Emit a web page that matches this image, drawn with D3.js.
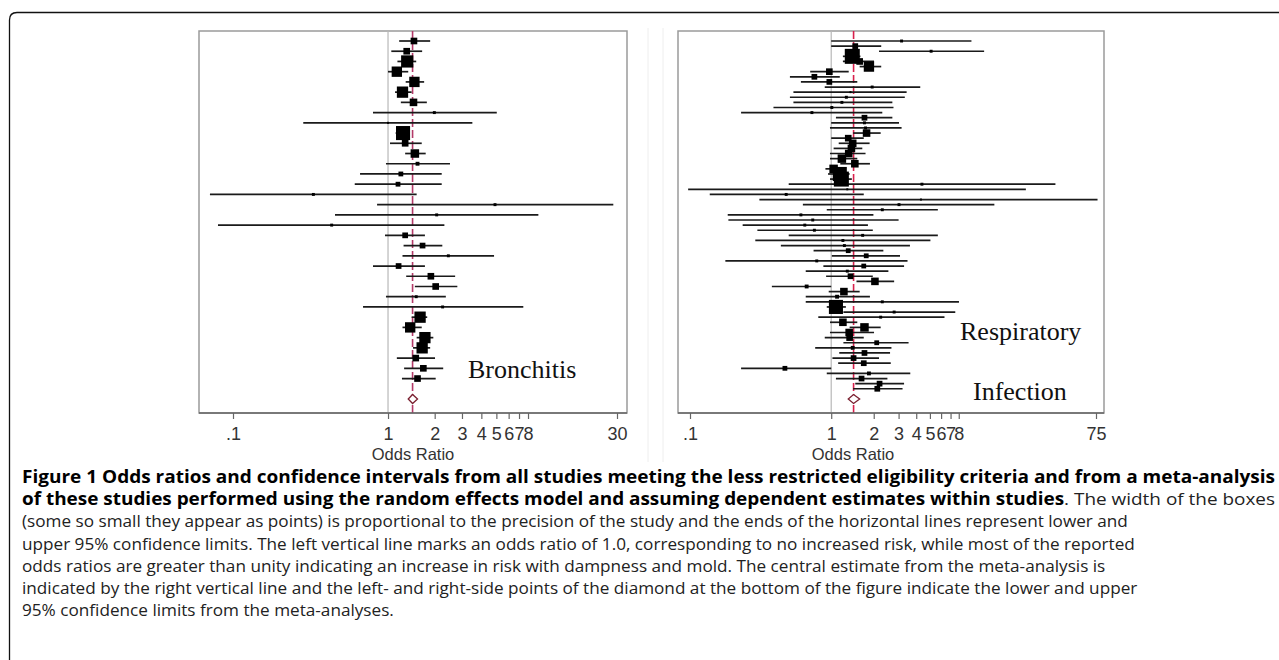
<!DOCTYPE html>
<html>
<head>
<meta charset="utf-8">
<script src="https://cdn.jsdelivr.net/npm/d3@7"></script>
<style>
  body { margin: 0; background: #fff; }
</style>
</head>
<body>
<div id="chart"></div>
<script>
// ---- data (top row first) ----
const bronchitisOR = [1.47,1.32,1.33,1.14,1.48,1.24,1.46,1.99,1.00,1.25,1.29,1.49,1.55,1.21,1.16,0.33,4.90,2.06,0.433,1.29,1.67,2.45,1.17,1.89,2.03,1.52,2.25,1.61,1.39,1.73,1.66,1.51,1.69,1.55];
const bronchitisLo = [1.18,1.05,1.15,1.00,1.30,1.11,1.21,0.80,0.284,1.12,1.03,1.29,0.97,0.66,0.61,0.071,0.85,0.455,0.080,0.956,1.26,1.24,0.80,1.31,1.49,0.97,0.69,1.42,1.24,1.53,1.45,1.14,1.27,1.23];
const bronchitisHi = [1.87,1.66,1.52,1.35,1.71,1.42,1.78,5.03,3.50,1.38,1.65,1.75,2.51,2.22,2.22,1.53,28.4,9.33,2.31,1.73,2.24,4.83,1.73,2.71,2.80,2.36,7.46,1.79,1.65,1.96,1.87,2.01,2.27,2.03];
const bronchitisWeight = [6,6,12,10,10,11,7,2,1,14,6,8,3,4,4,2,2,2,2,5,5,2,5,6,6,2,2,11,10,11,11,6,6,6];
const bronchitisPooled = { or: 1.44, lo: 1.35, hi: 1.55 };

const respiratoryOR = [3.15,1.48,5.10,1.41,1.59,1.85,0.97,0.76,0.97,1.95,1.37,1.28,1.19,1.01,0.73,1.72,1.72,1.75,1.78,1.32,1.42,1.39,1.33,1.19,1.47,1.04,1.15,1.18,4.39,1.30,0.48,4.32,3.02,2.30,0.61,0.74,0.65,0.76,1.67,1.21,1.24,1.32,1.77,0.79,1.70,1.30,1.37,2.04,0.67,1.23,1.10,2.30,1.08,2.79,2.24,1.21,1.72,1.34,1.35,2.10,1.42,1.72,1.44,1.70,0.47,1.85,1.64,2.20,2.12];
const respiratoryLo = [1.00,1.00,2.18,1.21,1.21,1.59,0.71,0.51,0.61,0.90,0.54,0.51,0.54,0.39,0.23,1.08,1.00,0.98,1.43,1.00,1.13,1.04,0.98,0.98,1.16,0.91,0.95,0.98,0.50,0.097,0.138,0.31,0.63,0.93,0.185,0.187,0.236,0.30,0.50,0.29,0.44,0.75,1.01,0.178,0.88,0.66,0.92,1.51,0.38,0.96,0.66,0.66,0.93,1.22,0.81,0.98,1.35,0.98,0.90,1.22,0.77,1.14,1.02,1.12,0.23,0.93,1.08,1.48,1.43];
const respiratoryHi = [9.84,2.26,12.1,1.61,2.01,2.26,1.33,1.15,1.53,4.27,3.42,3.32,2.71,2.76,2.30,2.71,3.02,3.15,2.24,1.70,1.87,1.66,1.75,1.53,1.88,1.16,1.35,1.40,38.7,23.9,1.70,76.9,14.3,5.69,1.99,3.00,1.82,1.97,5.69,5.04,3.61,2.34,3.07,3.47,3.28,2.54,1.97,2.79,1.00,1.59,1.88,8.03,1.27,7.56,6.34,1.53,2.24,2.01,1.70,3.53,2.67,2.61,2.18,2.64,1.00,3.63,2.50,3.28,3.20];
const respiratoryWeight = [2,5,2,15,6,10,6,5,5,2,1,2,2,2,2,5,2,2,7,6,7,7,7,8,7,8,14,15,2,1,2,1,2,2,2,2,2,2,2,2,2,4,4,2,4,2,5,7,3,7,3,2,14,2,2,7,8,7,6,4,3,5,5,5,4,3,5,5,5];
const respiratoryPooled = { or: 1.44, lo: 1.32, hi: 1.59 };

const bronchitisTicks = [0.1, 1, 2, 3, 4, 5, 6, 7, 8, 30];
const bronchitisTickLabels = [".1", "1", "2", "3", "4", "5", "6", "7", "8", "30"];
const respiratoryTicks = [0.1, 1, 2, 3, 4, 5, 6, 7, 8, 75];
const respiratoryTickLabels = [".1", "1", "2", "3", "4", "5", "6", "7", "8", "75"];

const axisTitle = "Odds Ratio";
const bronchitisLabel = ["Bronchitis"];
const respiratoryLabel = ["Respiratory", "Infection"];

const captionLines = [
  [["Figure 1 Odds ratios and confidence intervals from all studies meeting the less restricted eligibility criteria and from a meta-analysis", true]],
  [["of these studies performed using the random effects model and assuming dependent estimates within studies", true], [". The width of the boxes", false]],
  [["(some so small they appear as points) is proportional to the precision of the study and the ends of the horizontal lines represent lower and", false]],
  [["upper 95% confidence limits. The left vertical line marks an odds ratio of 1.0, corresponding to no increased risk, while most of the reported", false]],
  [["odds ratios are greater than unity indicating an increase in risk with dampness and mold. The central estimate from the meta-analysis is", false]],
  [["indicated by the right vertical line and the left- and right-side points of the diamond at the bottom of the figure indicate the lower and upper", false]],
  [["95% confidence limits from the meta-analyses.", false]]
];

// ---- drawing ----
const W = 1279, H = 660;
const svg = d3.select("#chart").append("svg").attr("width", W).attr("height", H);

// page frame with rounded top-left corner
svg.append("path")
  .attr("d", "M9.5,660 V20 Q9.5,12.5 17,12.5 H1279")
  .attr("fill", "none")
  .attr("stroke", "#111")
  .attr("stroke-width", 1.3);

// faint edges of the two pasted plot images
[648, 663].forEach(ex => {
  svg.append("line")
    .attr("x1", ex).attr("x2", ex).attr("y1", 28).attr("y2", 462)
    .attr("stroke", "#eeeeee").attr("stroke-width", 1);
});

const panels = [
  { or: bronchitisOR, lo: bronchitisLo, hi: bronchitisHi, wt: bronchitisWeight, pooled: bronchitisPooled,
    ticks: bronchitisTicks, tickLabels: bronchitisTickLabels, label: bronchitisLabel,
    left: 199, right: 627, top: 31, bottom: 413, r0: 233, r1: 617, dom: [0.1, 30],
    red: "#b33a68", labelX: 468, labelY: [378], titleX: 413 },
  { or: respiratoryOR, lo: respiratoryLo, hi: respiratoryHi, wt: respiratoryWeight, pooled: respiratoryPooled,
    ticks: respiratoryTicks, tickLabels: respiratoryTickLabels, label: respiratoryLabel,
    left: 678, right: 1104, top: 31, bottom: 413, r0: 690, r1: 1096, dom: [0.1, 75],
    red: "#d8204c", labelX: 960, labelY: [340, 400], titleX: 853 }
];

const size = d3.scaleLinear().domain([1, 15]).range([2, 15]);

panels.forEach(p => {
  const g = svg.append("g");
  const x = d3.scaleLog().domain(p.dom).range([p.r0, p.r1]);
  const n = p.or.length;
  const y = d3.scaleLinear().domain([0, n + 1]).range([p.top + 10, p.bottom - 14]);

  g.append("rect")
    .attr("x", p.left).attr("y", p.top)
    .attr("width", p.right - p.left).attr("height", p.bottom - p.top)
    .attr("fill", "#fff").attr("stroke", "#9a9a9a").attr("stroke-width", 1.5);

  // reference line at OR = 1
  g.append("line")
    .attr("x1", x(1)).attr("x2", x(1))
    .attr("y1", p.top).attr("y2", p.bottom)
    .attr("stroke", "#b8b8b8").attr("stroke-width", 1.2);

  // pooled estimate line
  g.append("line")
    .attr("x1", x(p.pooled.or)).attr("x2", x(p.pooled.or))
    .attr("y1", p.top).attr("y2", p.bottom)
    .attr("stroke", p.red).attr("stroke-width", 1.6)
    .attr("stroke-dasharray", "8,3");

  const rows = d3.range(n);

  g.selectAll(".ci").data(rows).enter().append("line")
    .attr("x1", i => x(p.lo[i])).attr("x2", i => x(p.hi[i]))
    .attr("y1", i => y(i)).attr("y2", i => y(i))
    .attr("stroke", "#1a1a1a").attr("stroke-width", 1.7);

  g.selectAll(".box").data(rows).enter().append("rect")
    .attr("x", i => x(p.or[i]) - size(p.wt[i]) / 2)
    .attr("y", i => y(i) - size(p.wt[i]) / 2)
    .attr("width", i => size(p.wt[i]))
    .attr("height", i => size(p.wt[i]))
    .attr("fill", "#000");

  // pooled diamond
  const yd = y(n + 1);
  g.append("path")
    .attr("d", `M${x(p.pooled.lo)},${yd} L${x(p.pooled.or)},${yd - 4.5} L${x(p.pooled.hi)},${yd} L${x(p.pooled.or)},${yd + 4.5} Z`)
    .attr("fill", "#fff").attr("stroke", "#7a2030").attr("stroke-width", 1.3);

  // bottom axis
  const axis = d3.axisBottom(x)
    .tickValues(p.ticks)
    .tickFormat((d, i) => p.tickLabels[i])
    .tickSize(6)
    .tickPadding(8);
  const ax = g.append("g").attr("transform", `translate(0,${p.bottom})`).call(axis);
  ax.select(".domain").remove();
  ax.selectAll(".tick line").attr("stroke", "#666").attr("stroke-width", 1.2);
  ax.selectAll(".tick text")
    .attr("fill", "#333")
    .style("font-family", "'Liberation Sans', Arial, sans-serif")
    .style("font-size", "18px");

  g.append("line")
    .attr("x1", p.left).attr("x2", p.right)
    .attr("y1", p.bottom).attr("y2", p.bottom)
    .attr("stroke", "#666").attr("stroke-width", 1.6);

  g.append("text")
    .attr("x", p.titleX).attr("y", 459.5)
    .attr("text-anchor", "middle")
    .attr("fill", "#333")
    .style("font-family", "'Liberation Sans', Arial, sans-serif")
    .style("font-size", "16.5px")
    .text(axisTitle);

  p.label.forEach((t, k) => {
    g.append("text")
      .attr("x", p.labelX + (k === 1 ? 13 : 0)).attr("y", p.labelY[k])
      .attr("fill", "#111")
      .style("font-family", "'Liberation Serif', 'Times New Roman', serif")
      .style("font-size", "26px")
      .text(t);
  });
});

// caption
const cap = svg.append("g")
  .style("font-family", "'Open Sans', sans-serif")
  .style("font-size", "16px")
  .attr("fill", "#111");

const capTexts = captionLines.map((segs, k) => {
  const t = cap.append("text").attr("x", 22).attr("y", 483 + k * 22.2);
  segs.forEach(s => {
    t.append("tspan")
      .attr("font-weight", s[1] ? 700 : 400)
      .attr("fill", s[1] ? "#000" : "#222")
      .text(s[0]);
  });
  return t;
});

// size the caption so the third line ends where it does in the figure
const natural = capTexts[2].node().getComputedTextLength();
cap.style("font-size", (16 * 1106 / natural).toFixed(2) + "px");
capTexts.forEach((t, k) => {
  if (k < 2) t.attr("textLength", 1253).attr("lengthAdjust", "spacingAndGlyphs");
});
</script>
</body>
</html>
